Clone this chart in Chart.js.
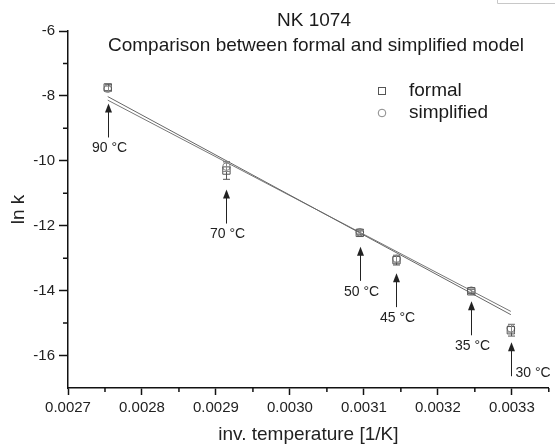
<!DOCTYPE html>
<html>
<head>
<meta charset="utf-8">
<script src="https://cdn.jsdelivr.net/npm/chart.js@4.4.1/dist/chart.umd.min.js"></script>
<style>
  html, body { margin: 0; padding: 0; background: #ffffff; }
  #wrap { width: 555px; height: 444px; position: relative; }
</style>
</head>
<body>
<div id="wrap"><canvas id="c" width="555" height="444"></canvas></div>
<script>
// ---- data ----
const temps = ['90 °C', '70 °C', '50 °C', '45 °C', '35 °C', '30 °C'];
const invT = [0.0027537, 0.0029142, 0.0030945, 0.0031441, 0.0032452, 0.0032987];
const lnkFormal = [-7.74, -10.30, -12.22, -13.06, -14.02, -15.22];
const errFormal = [0.10, 0.27, 0.06, 0.15, 0.06, 0.18];
const lnkSimplified = [-7.78, -10.18, -12.20, -13.02, -14.00, -15.16];
const errSimplified = [0.08, 0.15, 0.05, 0.10, 0.05, 0.12];
const fitX = [0.0027537, 0.0032987];
const fitFormal = [-8.02, -14.74];
const fitSimplified = [-8.13, -14.64];
const xTicks = [0.0027, 0.0028, 0.0029, 0.0030, 0.0031, 0.0032, 0.0033];
const xTickLabels = ['0.0027', '0.0028', '0.0029', '0.0030', '0.0031', '0.0032', '0.0033'];
const xMinorTicks = [0.00275, 0.00285, 0.00295, 0.00305, 0.00315, 0.00325, 0.00335];
const yTicks = [-6, -8, -10, -12, -14, -16];
const yMinorTicks = [-7, -9, -11, -13, -15];
const titleLines = ['NK 1074', 'Comparison between formal and simplified model'];
const seriesNames = ['formal', 'simplified'];

// ---- layout / style config (not data) ----
const FONT = "'Liberation Sans', Arial, sans-serif";
const arrowGap = [16, 19, 14, 13, 10, 12];
const ARROW_LEN = 34;

const pts = (xs, ys) => xs.map((x, i) => ({ x: x, y: ys[i] }));

const decorPlugin = {
  id: 'decor',
  afterDatasetsDraw(chart) {
    const ctx = chart.ctx;
    const xs = chart.scales.x, ys = chart.scales.y;
    ctx.save();
    const drawErr = (vals, errs, color) => {
      ctx.strokeStyle = color; ctx.lineWidth = 1;
      vals.forEach((v, i) => {
        const px = Math.round(xs.getPixelForValue(invT[i])) + 0.5;
        const y1 = ys.getPixelForValue(v + errs[i]);
        const y2 = ys.getPixelForValue(v - errs[i]);
        ctx.beginPath();
        ctx.moveTo(px, y1); ctx.lineTo(px, y2);
        ctx.moveTo(px - 3.5, y1); ctx.lineTo(px + 3.5, y1);
        ctx.moveTo(px - 3.5, y2); ctx.lineTo(px + 3.5, y2);
        ctx.stroke();
      });
    };
    drawErr(lnkFormal, errFormal, '#555');
    drawErr(lnkSimplified, errSimplified, '#888');
    ctx.restore();
  },
  afterDraw(chart) {
    const ctx = chart.ctx;
    const xs = chart.scales.x, ys = chart.scales.y;
    ctx.save();
    // minor ticks
    ctx.strokeStyle = '#111'; ctx.lineWidth = 1.5;
    ctx.beginPath();
    xMinorTicks.forEach(v => {
      const px = xs.getPixelForValue(v);
      ctx.moveTo(px, xs.top); ctx.lineTo(px, xs.top + 4);
    });
    yMinorTicks.forEach(v => {
      const py = ys.getPixelForValue(v);
      ctx.moveTo(ys.right, py); ctx.lineTo(ys.right - 5, py);
    });
    ctx.stroke();

    // titles
    ctx.fillStyle = '#1a1a1a';
    ctx.font = '19px ' + FONT;
    ctx.textAlign = 'center';
    ctx.textBaseline = 'middle';
    ctx.fillText(titleLines[0], 314, 21);
    ctx.fillText(titleLines[1], 316, 46);

    // legend
    ctx.textAlign = 'left';
    ctx.fillText(seriesNames[0], 409, 91);
    ctx.fillText(seriesNames[1], 409, 113);
    ctx.lineWidth = 1;
    ctx.strokeStyle = '#555';
    ctx.strokeRect(378.5, 87.5, 7, 7);
    ctx.strokeStyle = '#888';
    ctx.beginPath(); ctx.arc(382, 113, 3.8, 0, Math.PI * 2); ctx.stroke();

    // arrows + temperature labels
    ctx.strokeStyle = '#222'; ctx.fillStyle = '#222';
    ctx.font = '14px ' + FONT;
    temps.forEach((t, i) => {
      const px = Math.round(xs.getPixelForValue(invT[i])) + 0.5;
      const tip = ys.getPixelForValue(lnkFormal[i]) + arrowGap[i];
      const bottom = tip + ARROW_LEN;
      ctx.lineWidth = 1;
      ctx.beginPath(); ctx.moveTo(px, tip + 6); ctx.lineTo(px, bottom); ctx.stroke();
      ctx.beginPath();
      ctx.moveTo(px, tip); ctx.lineTo(px - 3.5, tip + 9); ctx.lineTo(px + 3.5, tip + 9);
      ctx.closePath(); ctx.fill();
      if (i === temps.length - 1) {
        ctx.textAlign = 'left'; ctx.textBaseline = 'middle';
        ctx.fillText(t, px + 4, bottom - 3);
      } else {
        ctx.textAlign = 'center'; ctx.textBaseline = 'middle';
        ctx.fillText(t, px + 1, bottom + 11);
      }
    });

    // corner fragment at top right
    ctx.strokeStyle = '#c8c8c8'; ctx.lineWidth = 1;
    ctx.beginPath(); ctx.moveTo(497.5, 0); ctx.lineTo(497.5, 3.5); ctx.lineTo(555, 3.5); ctx.stroke();
    ctx.restore();
  }
};

new Chart(document.getElementById('c'), {
  type: 'scatter',
  data: {
    datasets: [
      {
        label: 'formal fit', type: 'line', data: pts(fitX, fitFormal),
        borderColor: '#666', borderWidth: 1, pointRadius: 0, fill: false, order: 3
      },
      {
        label: 'simplified fit', type: 'line', data: pts(fitX, fitSimplified),
        borderColor: '#777', borderWidth: 1, pointRadius: 0, fill: false, order: 3
      },
      {
        label: seriesNames[0], data: pts(invT, lnkFormal),
        pointStyle: 'rect', pointRadius: 5.2, borderColor: '#555', borderWidth: 1,
        backgroundColor: 'rgba(255,255,255,0)', order: 1
      },
      {
        label: seriesNames[1], data: pts(invT, lnkSimplified),
        pointStyle: 'circle', pointRadius: 3.8, borderColor: '#888', borderWidth: 1,
        backgroundColor: 'rgba(255,255,255,0)', order: 2
      }
    ]
  },
  options: {
    responsive: false,
    animation: false,
    devicePixelRatio: 1,
    layout: { padding: { top: 31, right: 2, left: 0, bottom: 0 } },
    plugins: { legend: { display: false }, tooltip: { enabled: false }, title: { display: false } },
    scales: {
      x: {
        type: 'linear', min: 0.0027, max: 0.00335,
        afterBuildTicks: s => { s.ticks = xTicks.map(v => ({ value: v })); },
        afterFit: s => { s.height = 56; },
        ticks: {
          color: '#222', font: { family: FONT, size: 15 }, padding: 4,
          autoSkip: false, maxRotation: 0,
          callback: (v, i) => xTickLabels[i]
        },
        grid: { drawOnChartArea: false, drawTicks: true, tickLength: 7, tickColor: '#111', tickWidth: 1.5 },
        border: { display: true, color: '#111', width: 1.5 },
        title: {
          display: true, text: 'inv. temperature [1/K]', color: '#222',
          font: { family: FONT, size: 19, lineHeight: 1 }, padding: { top: 0, bottom: 0 }
        }
      },
      y: {
        type: 'linear', min: -17, max: -6,
        afterBuildTicks: s => { s.ticks = yTicks.map(v => ({ value: v })); },
        afterFit: s => { s.width = 68; },
        ticks: {
          color: '#222', font: { family: FONT, size: 15 }, padding: 4,
          autoSkip: false, callback: v => String(v)
        },
        grid: { drawOnChartArea: false, drawTicks: true, tickLength: 9, tickColor: '#111', tickWidth: 1.5 },
        border: { display: true, color: '#111', width: 1.5 },
        title: {
          display: true, text: 'ln k', color: '#222',
          font: { family: FONT, size: 19, lineHeight: 1 }, padding: { top: 9, bottom: 0 }
        }
      }
    }
  },
  plugins: [decorPlugin]
});
</script>
</body>
</html>
